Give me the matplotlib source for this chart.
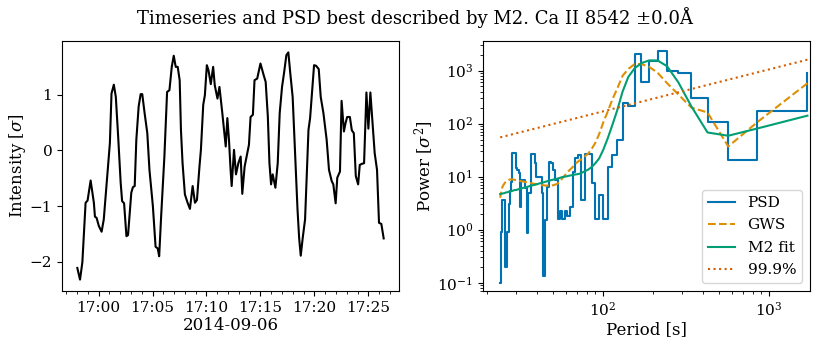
import numpy as np
import pandas as pd
import matplotlib
matplotlib.use("Agg")
import matplotlib.pyplot as plt
import matplotlib.dates as mdates

# time series: seconds relative to 17:00:00, normalised intensity
ts_sec = [
    -118, -103, -90, -72, -61, -44, -26, -20, -11, 2,
    17, 29, 44, 63, 72, 85, 96, 109, 123, 131,
    142, 155, 164, 182, 191, 201, 210, 223, 234, 243,
    256, 271, 283, 302, 317, 329, 337, 348, 366, 381,
    394, 407, 418, 429, 440, 451, 458, 467, 480, 495,
    508, 523, 536, 547, 561, 569, 582, 591, 602, 611,
    624, 637, 646, 661, 672, 688, 701, 707, 716, 725,
    734, 740, 753, 764, 777, 790, 799, 812, 823, 836,
    845, 858, 867, 882, 900, 918, 929, 941, 950, 959,
    968, 983, 996, 1007, 1020, 1032, 1044, 1055, 1066, 1079,
    1093, 1106, 1115, 1124, 1135, 1148, 1167, 1176, 1189, 1198,
    1209, 1224, 1235, 1250, 1268, 1281, 1296, 1305, 1318, 1327,
    1342, 1351, 1364, 1373, 1382, 1397, 1408, 1419, 1430, 1443,
    1452, 1465, 1476, 1489, 1500, 1511, 1526, 1535, 1548, 1559,
    1572, 1585,
]
ts_val = [
    -2.11, -2.32, -2.01, -0.94, -0.90, -0.54, -0.94, -1.19, -1.21, -1.36,
    -1.46, -1.24, -0.64, 0.13, 1.02, 1.18, 0.96, 0.25, -0.58, -0.91,
    -0.95, -1.54, -1.52, -0.76, -0.66, -0.64, 0.19, 0.79, 1.01, 1.01,
    0.67, 0.31, -0.35, -1.00, -1.73, -1.76, -1.90, -1.18, -0.11, 1.05,
    1.08, 1.50, 1.70, 1.50, 1.50, 1.26, 0.37, -0.23, -0.79, -0.94,
    -1.05, -0.64, -0.94, -0.89, -0.29, 0.01, 0.82, 0.99, 1.53, 1.44,
    1.19, 1.50, 1.17, 0.93, 1.14, 0.67, 0.25, 0.07, 0.58, 0.19,
    -0.35, -0.64, 0.01, -0.43, -0.23, -0.11, -0.78, -0.29, -0.11, 0.10,
    0.60, 0.64, 1.26, 1.29, 1.56, 1.35, 1.23, 0.61, -0.23, -0.61,
    -0.43, -0.67, -0.23, 0.67, 1.14, 1.41, 1.71, 1.76, 1.38, 0.96,
    -0.11, -1.06, -1.57, -1.89, -1.57, -1.24, 0.37, 0.58, 1.14, 1.53,
    1.52, 1.46, 0.96, 0.67, 0.19, -0.35, -0.55, -0.61, -0.95, -0.49,
    -0.38, 0.89, 0.34, 0.49, 0.60, 0.60, 0.36, 0.31, -0.46, -0.61,
    -0.26, -0.24, -0.23, 1.04, 0.39, 1.04, 0.37, -0.05, -0.35, -1.30,
    -1.32, -1.58,
]

# spectra, one value per frequency index k = 1..71 (N = 142 samples, dt = 12 s)
N_SAMPLES = 142
DT = 12.0
psd = [
    890, 170, 21, 105, 300, 890, 960, 2290, 1500, 615,
    2060, 210, 240, 50, 26, 15.5, 1.6, 4.6, 1.6, 7.5,
    27, 27, 3.6, 25.6, 22, 12.4, 2.7, 1.8, 2.3, 1.6,
    2.3, 1.6, 8.7, 13.5, 17.8, 19, 6.5, 1.5, 0.135, 4.9,
    10, 10, 10, 17.8, 27, 27, 4.9, 5.0, 0.85, 6.0,
    8.7, 8.7, 8.7, 2.7, 11.5, 13.5, 14.5, 27.5, 27.5, 27.5,
    8.0, 5.3, 3.0, 0.9, 0.9, 0.2, 3.6, 3.6, 3.6, 0.9,
    0.1,
]
gws = [
    575, 107, 37, 162, 200, 355, 575, 910, 1175, 1320,
    1320, 1070, 795, 457, 282, 166, 105, 63, 43, 33,
    27, 24, 21.4, 19.5, 17.4, 15.1, 13.5, 12.0, 10.5, 9.3,
    8.1, 7.4, 7.1, 6.9, 6.8, 6.8, 6.8, 6.8, 6.9, 6.9,
    7.0, 7.1, 7.2, 7.3, 7.4, 7.5, 7.6, 7.7, 7.8, 7.9,
    8.0, 8.1, 8.2, 8.3, 8.4, 8.5, 8.6, 8.7, 8.8, 8.9,
    8.9, 8.8, 8.7, 8.5, 8.3, 7.9, 7.4, 6.9, 6.3, 5.2,
    4.0,
]
m2_fit = [
    141, 81, 59, 68, 210, 600, 1200, 1550, 1550, 1380,
    1100, 760, 400, 178, 93, 52, 32, 22, 17.8, 15.1,
    13.5, 12.6, 11.7, 11.2, 11.0, 10.7, 10.5, 10.2, 10.0, 9.8,
    9.5, 9.2, 9.0, 8.8, 8.6, 8.4, 8.2, 8.0, 7.8, 7.6,
    7.5, 7.3, 7.2, 7.0, 6.9, 6.8, 6.7, 6.5, 6.4, 6.3,
    6.2, 6.1, 6.0, 5.9, 5.8, 5.7, 5.6, 5.6, 5.5, 5.4,
    5.3, 5.25, 5.2, 5.1, 5.05, 5.0, 4.9, 4.85, 4.8, 4.7,
    4.7,
]
# 99.9% level: straight power law, values at the longest / shortest period
conf_long, conf_short = 1600, 55

plt.rcParams.update({
    "font.family": "serif", "font.size": 11, "axes.labelsize": 12,
    "legend.fontsize": 11, "mathtext.fontset": "dejavuserif",
})

fig = plt.figure(figsize=(8.3, 3.45), dpi=100)
ax1 = fig.add_axes([62 / 830, 1 - 291 / 345, 337 / 830, 250 / 345])
ax2 = fig.add_axes([483 / 830, 1 - 291 / 345, 327 / 830, 250 / 345])

# left: time series
t0 = pd.Timestamp("2014-09-06 17:00:00")
times = t0 + pd.to_timedelta(ts_sec, unit="s")
ax1.plot(times, ts_val, color="k", lw=1.5)
ax1.xaxis.set_major_locator(mdates.MinuteLocator(byminute=range(0, 60, 5)))
ax1.xaxis.set_minor_locator(mdates.MinuteLocator())
ax1.xaxis.set_major_formatter(mdates.DateFormatter("%H:%M"))
ax1.set_yticks([-2, -1, 0, 1])
ax1.set_xlabel("2014-09-06", labelpad=2)
ax1.set_ylabel(r"Intensity [$\sigma$]", labelpad=1)

# right: PSD vs period
freqs = np.fft.rfftfreq(N_SAMPLES, d=DT)[1:]
periods = 1.0 / freqs
ax2.step(periods, psd, where="pre", color="#0173b2", lw=1.5, label="PSD")
ax2.plot(periods, gws, "--", color="#de8f05", lw=1.5, label="GWS")
ax2.plot(periods, m2_fit, color="#029e73", lw=1.5, label="M2 fit")
ax2.plot([periods[-1], periods[0]], [conf_short, conf_long], ":",
         color="#d55e00", lw=1.5, label="99.9%")
ax2.set_xscale("log")
ax2.set_yscale("log")
ax2.set_xlim(18.9, 1766)
ax2.set_ylim(0.07, 3600)
ax2.set_xlabel("Period [s]", labelpad=2)
ax2.set_ylabel(r"Power [$\sigma^2$]", labelpad=1)
ax2.legend(loc="lower right", handlelength=1.8, labelspacing=0.55)

fig.suptitle("Timeseries and PSD best described by M2. Ca II 8542 ±0.0Å",
             fontsize=13, y=0.948, va="center")
fig.savefig("out.png", dpi=100)
